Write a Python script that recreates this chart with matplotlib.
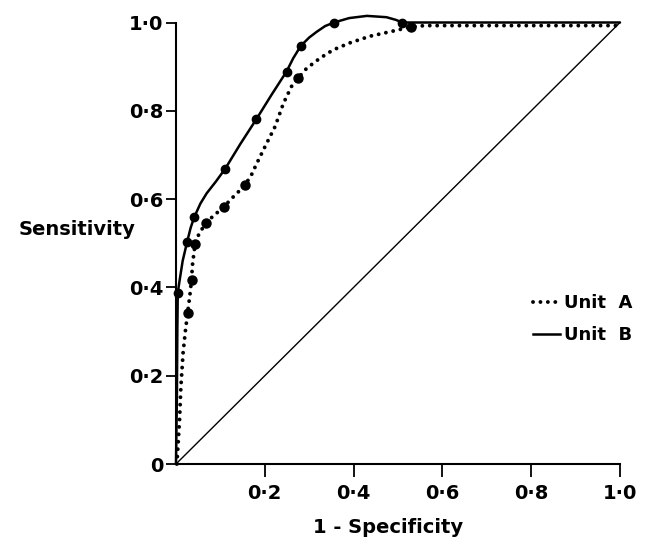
import matplotlib
matplotlib.use("Agg")
import matplotlib.pyplot as plt
from matplotlib.lines import Line2D

plt.rcParams['font.family'] = ['DejaVu Sans']
plt.rcParams['font.weight'] = 'bold'

# ---- data ----
# Unit A (dotted) traced curve
a_curve_x = [0.002, 0.005, 0.008, 0.011, 0.016, 0.021, 0.026, 0.031, 0.035, 0.037, 0.040,
             0.043, 0.052, 0.067, 0.085, 0.107, 0.122, 0.155, 0.170, 0.182, 0.204, 0.223,
             0.242, 0.260, 0.275, 0.294, 0.324, 0.354, 0.392, 0.437, 0.482, 0.529, 0.560,
             1.000]
a_curve_y = [0.000, 0.050, 0.100, 0.175, 0.252, 0.300, 0.341, 0.380, 0.417, 0.450, 0.475,
             0.498, 0.522, 0.545, 0.563, 0.581, 0.598, 0.631, 0.655, 0.681, 0.726, 0.764,
             0.817, 0.855, 0.874, 0.896, 0.919, 0.938, 0.954, 0.969, 0.979, 0.990, 0.993,
             0.993]
# Unit A plotted points
a_pts_x = [0.026, 0.035, 0.043, 0.067, 0.107, 0.155, 0.275, 0.529]
a_pts_y = [0.341, 0.417, 0.498, 0.545, 0.581, 0.631, 0.874, 0.990]

# Unit B (solid) traced curve
b_curve_x = [0.000, 0.002, 0.003, 0.004, 0.008, 0.015, 0.025, 0.033, 0.041, 0.055, 0.069,
             0.090, 0.111, 0.145, 0.181, 0.215, 0.249, 0.264, 0.281, 0.300, 0.317, 0.336,
             0.356, 0.390, 0.430, 0.474, 0.495, 0.510, 0.540, 1.000]
b_curve_y = [0.000, 0.150, 0.300, 0.388, 0.415, 0.460, 0.503, 0.535, 0.559, 0.590, 0.613,
             0.640, 0.669, 0.725, 0.781, 0.836, 0.889, 0.919, 0.947, 0.966, 0.979, 0.992,
             1.000, 1.010, 1.015, 1.012, 1.006, 1.000, 1.000, 1.000]
# Unit B plotted points
b_pts_x = [0.004, 0.025, 0.041, 0.111, 0.181, 0.249, 0.281, 0.356, 0.510]
b_pts_y = [0.388, 0.503, 0.559, 0.669, 0.781, 0.889, 0.947, 1.000, 1.000]

# chance diagonal
diag_x = [0.0, 1.0]
diag_y = [0.0, 1.0]

x_ticks = [0.2, 0.4, 0.6, 0.8, 1.0]
x_tick_labels = ['0·2', '0·4', '0·6', '0·8', '1·0']
y_ticks = [0.0, 0.2, 0.4, 0.6, 0.8, 1.0]
y_tick_labels = ['0', '0·2', '0·4', '0·6', '0·8', '1·0']
series_labels = ['Unit  A', 'Unit  B']

# ---- figure ----
fig = plt.figure(figsize=(6.54, 5.40), dpi=100)
ax = fig.add_axes([176/654, 76/540, 444/654, 441.5/540])

ax.plot(diag_x, diag_y, color='black', lw=1.0, clip_on=False, zorder=2)

ax.plot(a_curve_x, a_curve_y, color='black', lw=2.8, linestyle=(0, (0.01, 1.9)),
        dash_capstyle='round', clip_on=False, zorder=3)
ax.plot(a_pts_x, a_pts_y, 'o', color='black', ms=6.5, clip_on=False, zorder=4)

ax.plot(b_curve_x, b_curve_y, color='black', lw=1.8, solid_capstyle='round',
        solid_joinstyle='round', clip_on=False, zorder=3)
ax.plot(b_pts_x, b_pts_y, 'o', color='black', ms=6.0, clip_on=False, zorder=4)

ax.set_xlim(0, 1)
ax.set_ylim(0, 1)
for s in ['top', 'right']:
    ax.spines[s].set_visible(False)
for s in ['left', 'bottom']:
    ax.spines[s].set_linewidth(1.5)

ax.set_xticks(x_ticks)
ax.set_xticklabels(x_tick_labels, fontsize=14, fontweight='bold')
ax.set_yticks(y_ticks)
ax.set_yticklabels(y_tick_labels, fontsize=14, fontweight='bold')
ax.tick_params(axis='x', direction='out', length=9, width=1.3, pad=5.5)
ax.tick_params(axis='y', direction='out', length=7, width=1.3, pad=2)

ax.set_xlabel('1 - Specificity', fontsize=14, fontweight='bold')
ax.xaxis.set_label_coords(0.477, -0.122)
ax.text(-0.222, 0.519, 'Sensitivity', transform=ax.transAxes, fontsize=14,
        fontweight='bold', ha='center', va='baseline')

handles = [Line2D([], [], color='black', lw=2.8, linestyle=(0, (0.01, 1.9)),
                  dash_capstyle='round'),
           Line2D([], [], color='black', lw=1.8)]
ax.legend(handles, series_labels, loc='upper left', bbox_to_anchor=(0.804, 0.384),
          frameon=False, handlelength=1.5, handletextpad=0.2,
          labelspacing=0.77, borderpad=0, borderaxespad=0,
          prop={'weight': 'bold', 'size': 13})

fig.savefig('out.png', dpi=100)
